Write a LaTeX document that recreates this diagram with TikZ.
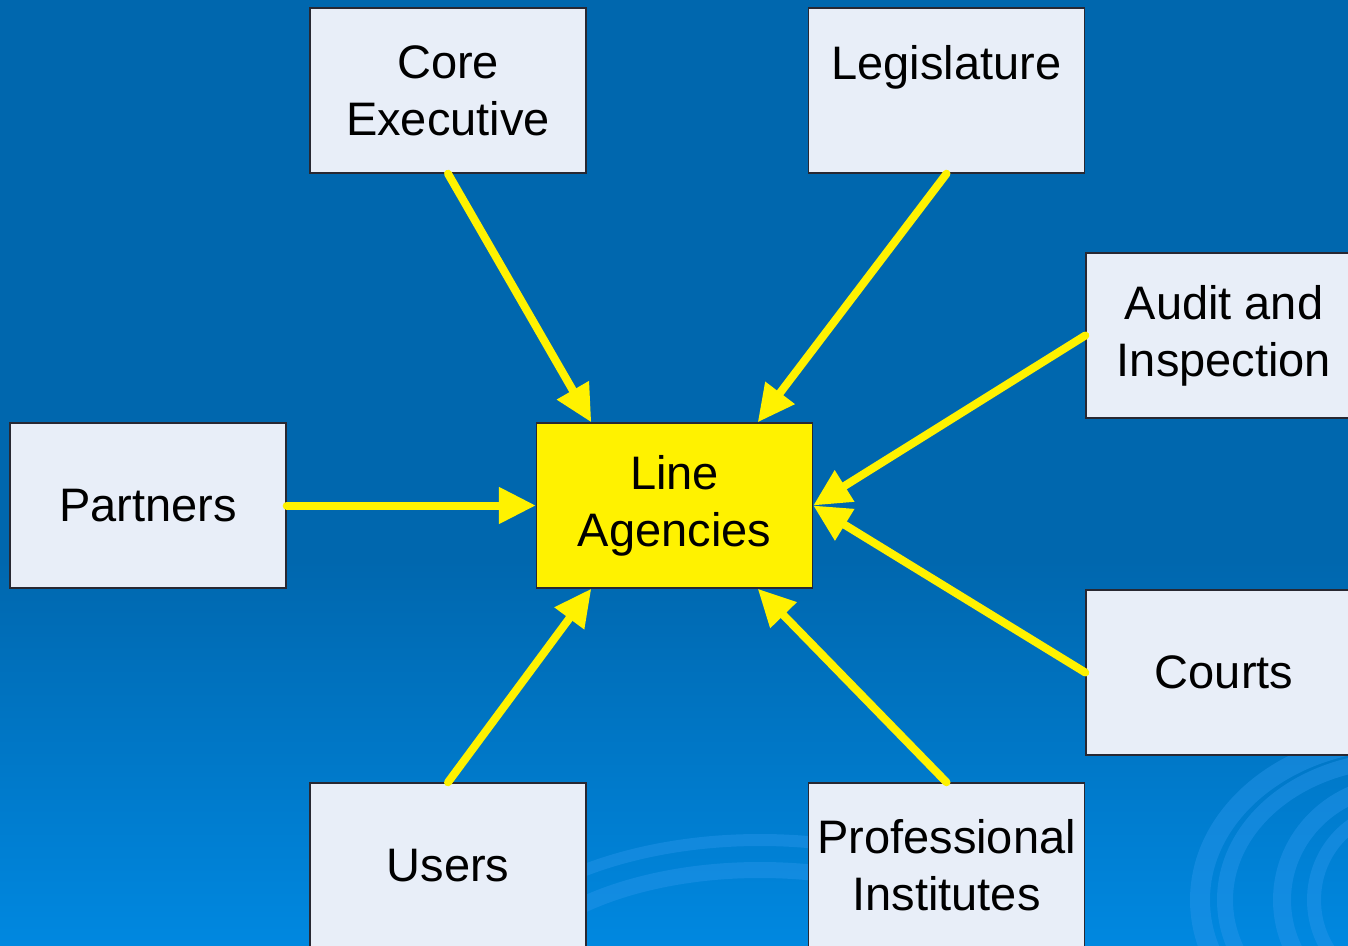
\documentclass[tikz,border=0pt]{standalone}
\usepackage{fontspec}
\setmainfont{Liberation Sans}
\usepackage{tikz}
\definecolor{slide-blue}{RGB}{0,103,174}
\definecolor{slide-lightblue}{RGB}{0,136,224}
\definecolor{swirl-blue}{RGB}{40,150,235}
\definecolor{box-grey}{RGB}{232,238,248}
\definecolor{box-line}{RGB}{40,40,50}
\usetikzlibrary{arrows.meta,calc}

\begin{document}
\begin{tikzpicture}[x=0.5pt,y=-0.5pt,
    box/.style={draw=box-line, line width=0.7pt, fill=box-grey, minimum width=138pt,
        minimum height=82.5pt, inner sep=0pt, align=center,
        font=\fontsize{23.5}{28.5}\selectfont},
    feed/.style={draw=yellow, line width=4pt, line cap=round,
        -{Triangle[length=18.5pt,width=17.5pt]}},
    swirl/.style={draw=swirl-blue, opacity=0.45}]
    \useasboundingbox (0,0) rectangle (1348,946);
    \clip (0,0) rectangle (1348,946);

    % background
    \fill[slide-blue] (0,0) rectangle (1348,560);
    \shade[top color=slide-blue, bottom color=slide-lightblue] (0,560) rectangle (1348,946);
    \draw[swirl, line width=10] (1400,900) ellipse [x radius=200, y radius=160];
    \draw[swirl, line width=8] (1400,900) ellipse [x radius=175, y radius=140];
    \draw[swirl, line width=9] (1400,900) ellipse [x radius=118, y radius=115];
    \draw[swirl, line width=7] (1400,900) ellipse [x radius=86, y radius=90];
    \draw[swirl, line width=8] (760,1000) ellipse [x radius=260, y radius=130];
    \draw[swirl, line width=6] (760,1000) ellipse [x radius=300, y radius=160];

    % the boxes
    \node[box] (core) at (448,90.5) {Core\\Executive};
    \node[box] (legis) at (946.5,90.5) {Legislature\\\phantom{L}};
    \node[box] (audit) at (1224,335.5) {Audit and\\Inspection};
    \node[box] (partners) at (148,505.5) {Partners};
    \node[box, fill=yellow] (line) at (674.5,505.5) {Line\\Agencies};
    \node[box] (courts) at (1224,672.5) {Courts};
    \node[box] (users) at (448,865.5) {Users};
    \node[box] (prof) at (946.5,865.5) {Professional\\Institutes};

    \coordinate (line-tl) at ($(line.north west)!0.2!(line.north east)$);
    \coordinate (line-tr) at ($(line.north east)!0.2!(line.north west)$);
    \coordinate (line-bl) at ($(line.south west)!0.2!(line.south east)$);
    \coordinate (line-br) at ($(line.south east)!0.2!(line.south west)$);

    % arrows into line agencies
    \draw[feed] (core.south) -- (line-tl);
    \draw[feed] (legis.south) -- (line-tr);
    \draw[feed] (audit.west) -- (line.east);
    \draw[feed] (partners.east) -- (line.west);
    \draw[feed] (courts.west) -- (line.east);
    \draw[feed] (users.north) -- (line-bl);
    \draw[feed] (prof.north) -- (line-br);
\end{tikzpicture}
\end{document}
